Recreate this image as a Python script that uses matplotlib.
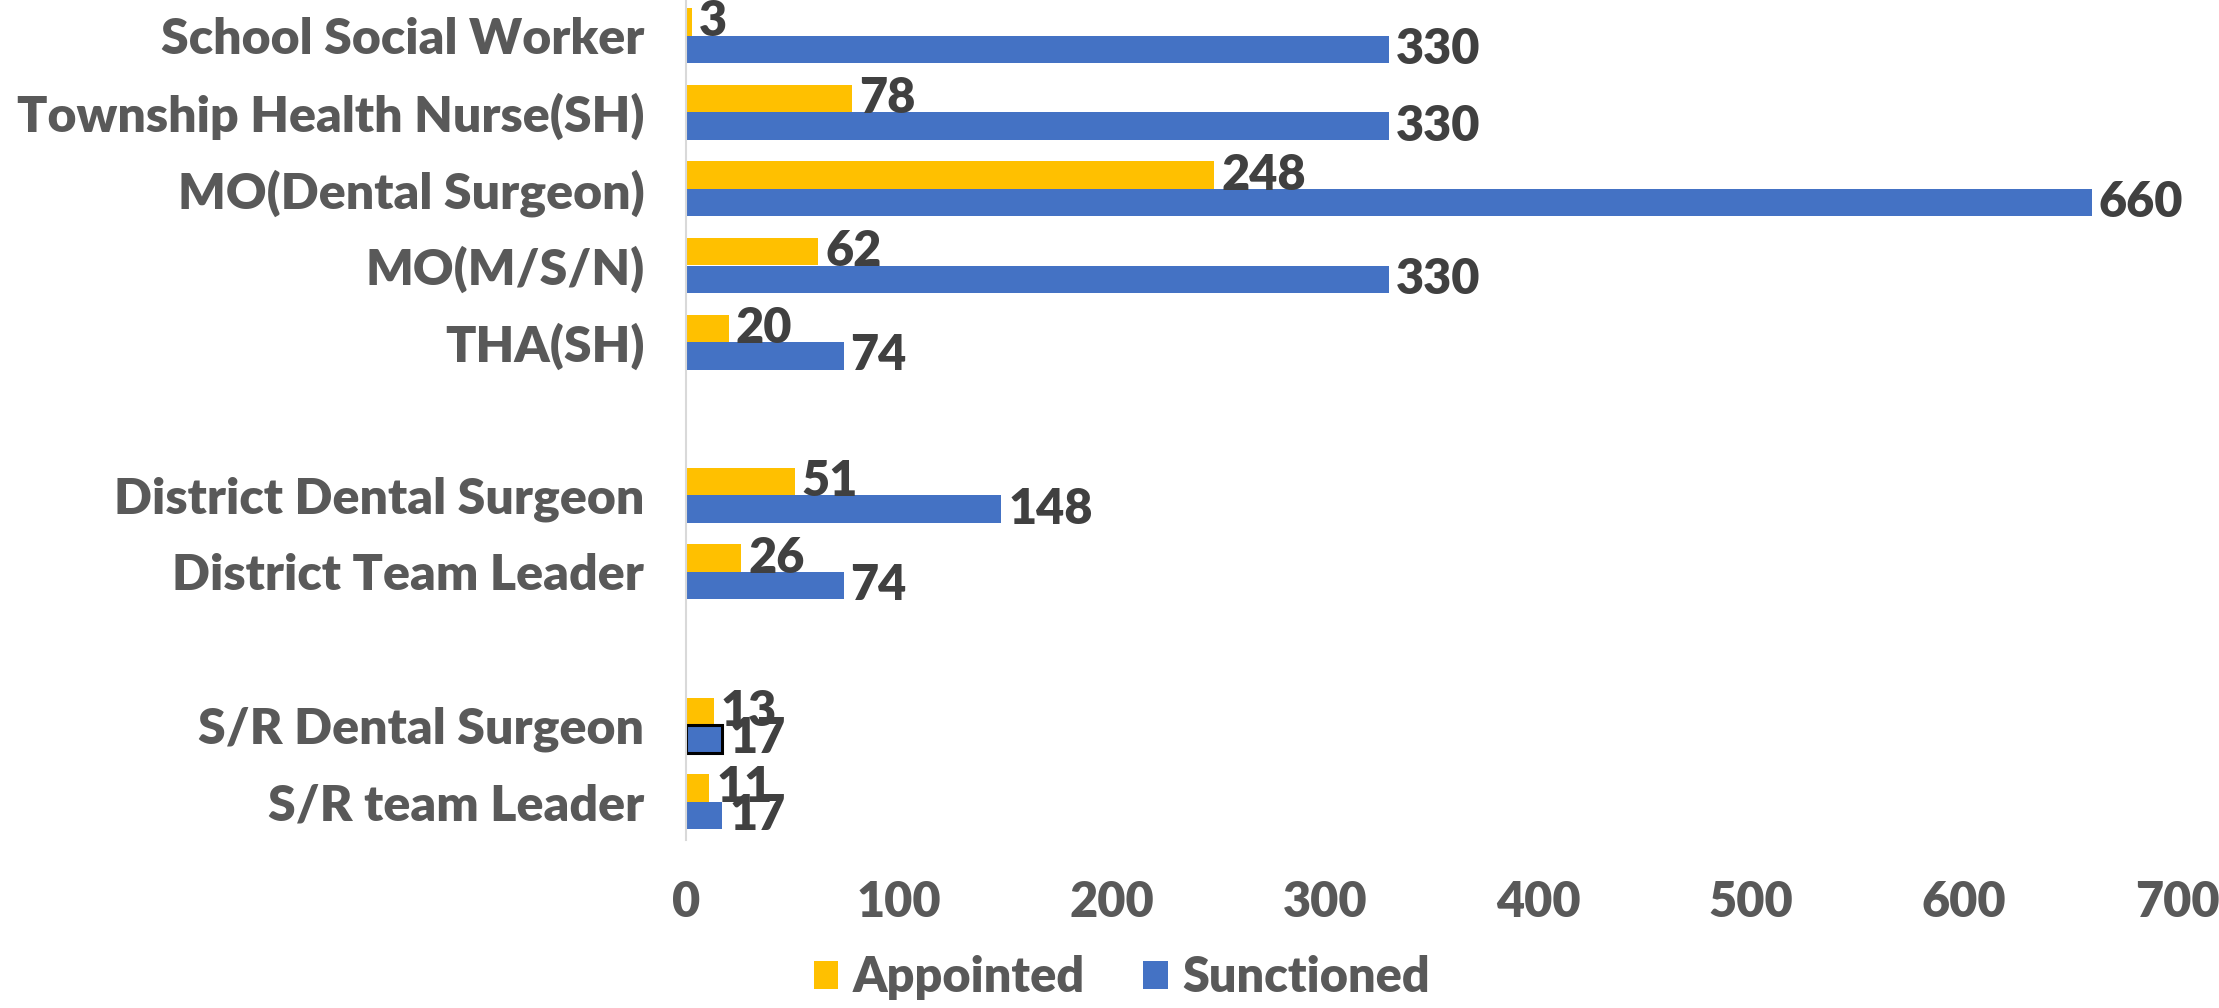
import numpy as np
import matplotlib
matplotlib.use("Agg")
import matplotlib.pyplot as plt

categories = ["School Social Worker", "Township Health Nurse(SH)", "MO(Dental Surgeon)",
              "MO(M/S/N)", "THA(SH)", "", "District Dental Surgeon", "District Team Leader",
              "", "S/R Dental Surgeon", "S/R team Leader"]
appointed = [3, 78, 248, 62, 20, np.nan, 51, 26, np.nan, 13, 11]
sunctioned = [330, 330, 660, 330, 74, np.nan, 148, 74, np.nan, 17, 17]
x_ticks = [0, 100, 200, 300, 400, 500, 600, 700]

YELLOW = "#FFC000"
BLUE = "#4472C4"
LABEL_C = "#595959"
VAL_C = "#404040"
FONT = "Lato"
W = "heavy"
FS = 35

plt.rcParams['font.family'] = [FONT, 'DejaVu Sans']

fig = plt.figure(figsize=(22.19, 10.08), dpi=100)
ax = fig.add_axes([686/2219, 1-840/1008, (2177-686)/2219, (840+2.6)/1008])

y = np.arange(len(categories))
h = 0.359
b1 = ax.barh(y - h/2, appointed, height=h, color=YELLOW, label="Appointed")
b2 = ax.barh(y + h/2, sunctioned, height=h, color=BLUE, label="Sunctioned")
# highlighted (selected) bar in the original
b2[9].set_edgecolor("black")
b2[9].set_linewidth(2.2)

for bars, vals in ((b1, appointed), (b2, sunctioned)):
    for rect, v in zip(bars, vals):
        if np.isnan(v):
            continue
        ax.annotate(f"{int(v)}", xy=(v, rect.get_y() + rect.get_height()/2),
                    xytext=(5, 0), textcoords="offset points",
                    ha="left", va="center", fontsize=FS, fontweight=W,
                    color=VAL_C)

ax.set_xlim(0, 700)
ax.set_ylim(len(categories) - 0.5, -0.5)
ax.set_yticks(y)
ax.set_yticklabels(categories)
ax.set_xticks(x_ticks)
ax.tick_params(axis="both", length=0)
ax.tick_params(axis="y", pad=30, labelsize=36, labelcolor=LABEL_C)
ax.tick_params(axis="x", pad=29, labelsize=FS, labelcolor=LABEL_C)
for lab in ax.get_yticklabels() + ax.get_xticklabels():
    lab.set_fontweight(W)

for s in ("top", "right", "bottom"):
    ax.spines[s].set_visible(False)
ax.spines["left"].set_color("#D9D9D9")
ax.spines["left"].set_linewidth(1.5)

leg = fig.legend(handles=[b1, b2], labels=["Appointed", "Sunctioned"],
                 loc="center", bbox_to_anchor=(1122/2219, 1-978/1008),
                 ncol=2, frameon=False, fontsize=FS, handlelength=0.5,
                 handleheight=0.5, handletextpad=0.3, columnspacing=1.2)
for t in leg.get_texts():
    t.set_color(LABEL_C)
    t.set_fontweight(W)

fig.savefig("out.png", dpi=100)
